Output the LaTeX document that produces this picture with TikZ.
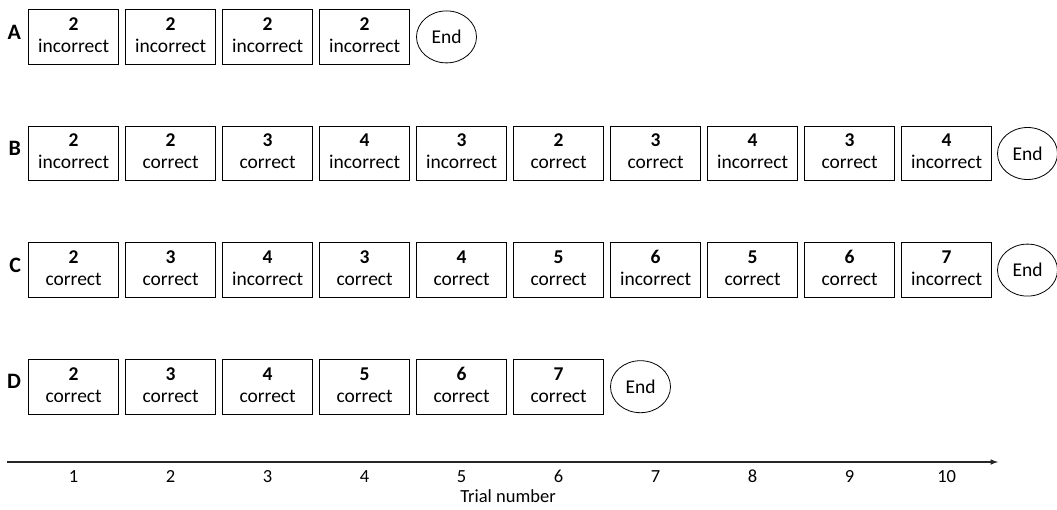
\documentclass[tikz,border=0pt]{standalone}
\usepackage{fontspec}
\setmainfont{Carlito}
\usetikzlibrary{matrix,arrows,positioning,shapes.geometric}

\newcommand{\trial}[2]{\begin{tabular}{@{}c@{}}\textbf{#1}\\#2\end{tabular}}

\tikzset{
  trialbox/.style={draw, line width=0.9pt, minimum width=90pt, minimum height=54.5pt, inner sep=2pt,
    font=\fontsize{19.5}{22}\selectfont},
  endnode/.style={draw, ellipse, line width=0.8pt, minimum width=60pt, minimum height=52pt, inner sep=0pt,
    font=\fontsize{19.5}{22}\selectfont},
  rowlabel/.style={inner sep=0pt, font=\fontsize{22}{24}\selectfont\bfseries},
  ticklabel/.style={inner sep=0pt, anchor=base, font=\fontsize{18.5}{20}\selectfont}
}

\begin{document}
\begin{tikzpicture}[x=1pt,y=-1pt]
  \useasboundingbox (0,0) rectangle (1057,510);
  \matrix (m) [matrix of nodes, nodes={trialbox}, row sep=61.2pt, column sep=6.1pt, inner sep=0pt,
    anchor=north west] at (28,9)
  {
    \trial{2}{incorrect} & \trial{2}{incorrect} & \trial{2}{incorrect} & \trial{2}{incorrect} \\
    \trial{2}{incorrect} & \trial{2}{correct} & \trial{3}{correct} & \trial{4}{incorrect} &
    \trial{3}{incorrect} & \trial{2}{correct} & \trial{3}{correct} & \trial{4}{incorrect} &
    \trial{3}{correct} & \trial{4}{incorrect} \\
    \trial{2}{correct} & \trial{3}{correct} & \trial{4}{incorrect} & \trial{3}{correct} &
    \trial{4}{correct} & \trial{5}{correct} & \trial{6}{incorrect} & \trial{5}{correct} &
    \trial{6}{correct} & \trial{7}{incorrect} \\
    \trial{2}{correct} & \trial{3}{correct} & \trial{4}{correct} & \trial{5}{correct} &
    \trial{6}{correct} & \trial{7}{correct} \\
  };

  \node[rowlabel, left=7pt of m-1-1, yshift=5pt] (labA) {A};
  \node[rowlabel, left=7pt of m-2-1, yshift=5pt] (labB) {B};
  \node[rowlabel, left=7pt of m-3-1, yshift=5pt] (labC) {C};
  \node[rowlabel, left=7pt of m-4-1, yshift=5pt] (labD) {D};

  \node[endnode, right=6pt of m-1-4] (endA) {End};
  \node[endnode, right=5pt of m-2-10] (endB) {End};
  \node[endnode, right=5pt of m-3-10] (endC) {End};
  \node[endnode, right=6pt of m-4-6] (endD) {End};

  \coordinate (axstart) at (7,462);
  \coordinate (axend) at (998,462);
  \coordinate (tickrow) at (0,482);
  \draw[line width=1.5pt, draw=black!85, -latex] (axstart) -- (axend);
  \foreach \i in {1,...,10}
    \node[ticklabel] (tick\i) at (m-2-\i |- tickrow) {\i};
  \node[ticklabel] (axtitle) at (508,502) {Trial number};
\end{tikzpicture}
\end{document}
